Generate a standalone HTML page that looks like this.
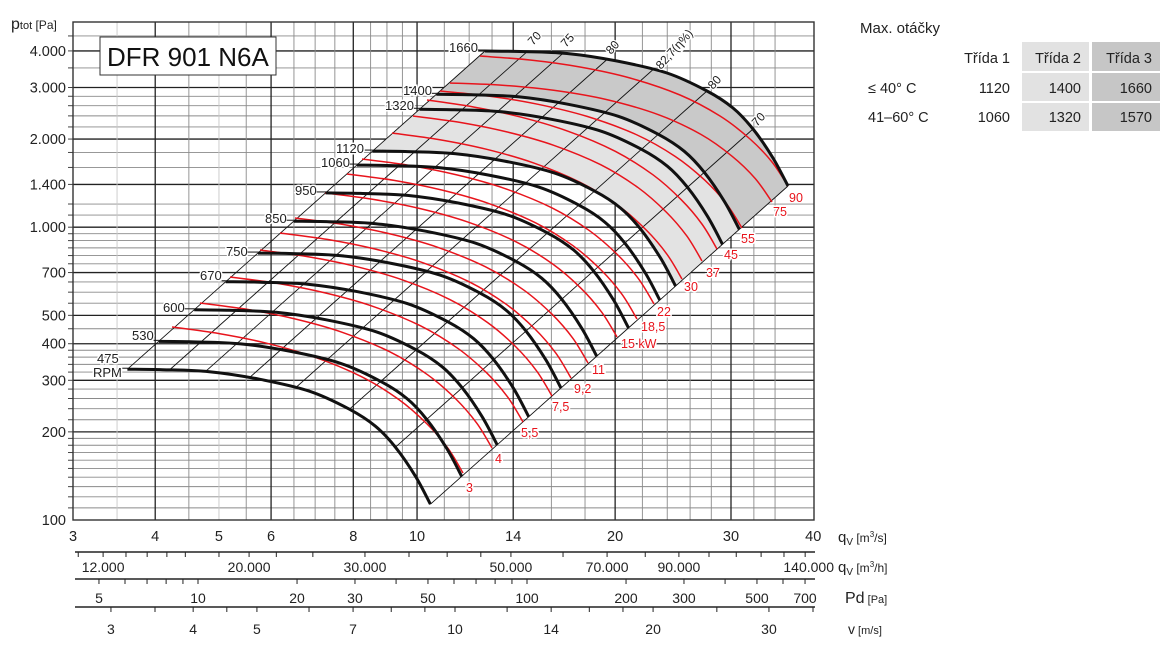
<!DOCTYPE html>
<html><head><meta charset="utf-8">
<style>
html,body{margin:0;padding:0;background:#fff;}
body{width:1172px;height:658px;overflow:hidden;position:relative;font-family:"Liberation Sans",sans-serif;}
svg text{font-family:"Liberation Sans",sans-serif;}
</style></head><body>
<svg id="s" width="1172" height="658" viewBox="0 0 1172 658" xmlns="http://www.w3.org/2000/svg"></svg>
<script>
var NS="http://www.w3.org/2000/svg",S=document.getElementById('s');
function el(t,a,txt){var e=document.createElementNS(NS,t);for(var k in a)e.setAttribute(k,a[k]);if(txt!==undefined)e.textContent=txt;S.appendChild(e);return e;}
function L10(v){return Math.log(v)/Math.LN10;}
function X(q){return 73+658*L10(q/3);}
function Y(p){return 520-292.8*L10(p/100);}
var XL=73,XR=814,YT=22,YB=520;
var hs=[110,120,130,140,150,160,170,180,190,200,220,240,260,280,300,320,340,360,380,400,450,500,550,600,650,700,750,800,850,900,950,1000,1100,1200,1400,1600,1800,2000,2200,2400,2600,2800,3000,3500,4000,4500];
var hmaj=[200,300,400,500,700,1000,1400,2000,3000,4000];
hs.forEach(function(p){var y=Y(p),m=hmaj.indexOf(p)>=0;
 el('line',{x1:XL,x2:XR,y1:y,y2:y,stroke:m?'#222':'#8a8a8a','stroke-width':m?1.3:0.9});
 el('line',{x1:XL-5,x2:XL,y1:y,y2:y,stroke:'#444','stroke-width':1});});
var vs=[3.5,4,4.5,5,5.5,6,6.5,7,7.5,8,8.5,9,9.5,10,11,12,13,14,16,18,20,22,24,26,28,30,32.5,35];
var vmaj=[4,6,8,10,14,20,30];
vs.forEach(function(q){var x=X(q),m=vmaj.indexOf(q)>=0;
 el('line',{x1:x,x2:x,y1:YT,y2:YB,stroke:m?'#222':(q==3.5||q==5?'#c8c8c8':'#8a8a8a'),'stroke-width':m?1.3:0.9});});
el('rect',{x:XL,y:YT,width:XR-XL,height:YB-YT,fill:'none',stroke:'#333','stroke-width':1.4});
[[100,'100'],[200,'200'],[300,'300'],[400,'400'],[500,'500'],[700,'700'],[1000,'1.000'],[1400,'1.400'],[2000,'2.000'],[3000,'3.000'],[4000,'4.000']].forEach(function(a){
 el('text',{x:66,y:Y(a[0])+5,'font-size':14.5,'text-anchor':'end',fill:'#222'},a[1]);});
var t=el('text',{x:11,y:29,'font-size':16,fill:'#222'});t.innerHTML='p<tspan font-size="11">tot</tspan><tspan font-size="12"> [Pa]</tspan>';
[3,4,5,6,8,10,14,20,30,40].forEach(function(q){el('text',{x:X(q),y:541,'font-size':14.5,'text-anchor':'middle',fill:'#222'},q);});
t=el('text',{x:838,y:542,'font-size':15,fill:'#222'});t.innerHTML='q<tspan font-size="10" dy="3">V</tspan><tspan font-size="12" dy="-3"> [m</tspan><tspan font-size="8" dy="-5">3</tspan><tspan font-size="12" dy="5">/s]</tspan>';
el('line',{x1:75,x2:815,y1:552,y2:552,stroke:'#222','stroke-width':1.6});
[11000,12000,13000,14000,15000,16000,18000,20000,22000,25000,30000,35000,40000,45000,50000,60000,70000,80000,90000,100000,110000,120000,130000,140000].forEach(function(v){var x=X(v/3600);el('line',{x1:x,x2:x,y1:552,y2:557,stroke:'#222','stroke-width':1});});
[['12.000',12000],['20.000',20000],['30.000',30000],['50.000',50000],['70.000',70000],['90.000',90000]].forEach(function(a){el('text',{x:X(a[1]/3600),y:572,'font-size':14,'text-anchor':'middle',fill:'#222'},a[0]);});
el('text',{x:834,y:572,'font-size':14,'text-anchor':'end',fill:'#222'},'140.000');
t=el('text',{x:838,y:572,'font-size':15,fill:'#222'});t.innerHTML='q<tspan font-size="10" dy="3">V</tspan><tspan font-size="12" dy="-3"> [m</tspan><tspan font-size="8" dy="-5">3</tspan><tspan font-size="12" dy="5">/h]</tspan>';
function XP(p){return 198+329*L10(p/10);}
el('line',{x1:75,x2:815,y1:579,y2:579,stroke:'#222','stroke-width':1.6});
[5,6,7,8,9,10,20,30,40,50,60,70,80,90,100,200,300,400,500,600,700].forEach(function(p){var x=XP(p);el('line',{x1:x,x2:x,y1:579,y2:584,stroke:'#222','stroke-width':1});});
[5,10,20,30,50,100,200,300,500,700].forEach(function(p){el('text',{x:XP(p),y:603,'font-size':14,'text-anchor':'middle',fill:'#222'},p);});
t=el('text',{x:845,y:603,'font-size':16,fill:'#222'});t.innerHTML='Pd<tspan font-size="11"> [Pa]</tspan>';
function XV(v){return 455+658*L10(v/10);}
el('line',{x1:75,x2:815,y1:607,y2:607,stroke:'#222','stroke-width':1.6});
[3,3.5,4,4.5,5,6,7,8,9,10,12,14,16,18,20,25,30,35].forEach(function(v){var x=XV(v);el('line',{x1:x,x2:x,y1:607,y2:612,stroke:'#222','stroke-width':1});});
[3,4,5,7,10,14,20,30].forEach(function(v){el('text',{x:XV(v),y:634,'font-size':14,'text-anchor':'middle',fill:'#222'},v);});
t=el('text',{x:848,y:634,'font-size':14,fill:'#222'});t.innerHTML='v<tspan font-size="11"> [m/s]</tspan>';

var B=[[485,51],[520,51.5],[567,53.5],[617,61],[667,73],[707,91],[733,108],[753,129],[773,158],[788,186]];
var R=[[480,56],[530,60],[580,67],[630,78],[680,95],[720,116],[750,139],[772,162],[788,186]];
function sh(P,n){var r=L10(n/1660),dx=658*r,dy=-585.6*r;return P.map(function(p){return [p[0]+dx,p[1]+dy];});}
function cr(P){var d='M'+P[0][0].toFixed(1)+' '+P[0][1].toFixed(1);
 for(var i=0;i<P.length-1;i++){var p0=P[i-1]||P[i],p1=P[i],p2=P[i+1],p3=P[i+2]||P[i+1];
 d+=' C'+(p1[0]+(p2[0]-p0[0])/6).toFixed(1)+' '+(p1[1]+(p2[1]-p0[1])/6).toFixed(1)+' '+(p2[0]-(p3[0]-p1[0])/6).toFixed(1)+' '+(p2[1]-(p3[1]-p1[1])/6).toFixed(1)+' '+p2[0].toFixed(1)+' '+p2[1].toFixed(1);}
 return d;}
function interp(P,x){for(var i=0;i<P.length-1;i++){if(x<=P[i+1][0]){var f=(x-P[i][0])/(P[i+1][0]-P[i][0]);return [x,P[i][1]+f*(P[i+1][1]-P[i][1])];}}return P[P.length-1];}
function region(n1,n2,fill){var a=sh(B,n1),b=sh(B,n2).slice().reverse();
 var d=cr(a)+' L'+b[0][0]+' '+b[0][1];var c=cr(b);d+=' '+c.replace(/^M[^C]*/,'')+' Z';el('path',{d:d,fill:fill,stroke:'none'});}
region(1660,1120,'#e3e3e3');region(1660,1400,'#c9c9c9');
[485,527,563,607,653,707,753,788].forEach(function(x){var p=interp(B,x);var r=L10(475/1660);
 el('line',{x1:p[0]+658*r,y1:p[1]-585.6*r,x2:p[0],y2:p[1],stroke:'#111','stroke-width':0.9});});
var red=[['3',172,327,463,473,466,492],['4',200,303,492,448,495,463],['5,5',230,277,523,422,521,437],['7,5',260,250,552,396,552,411],['9,2',280,233,571,378,574,393],['11',295,218,588,363,592,374],['15 kW',325,193,617,337,621,348],['18,5',347,174,637,319,641,331],['22',362,159,654,304,657,316],['30',392,133,682,279,684,291],['37',413,116,702,261,706,277],['45',427,100,717,249,724,259],['55',440,91,742,228,741,243],['75',450,83,772,202,773,216],['90',480,56,788,186,789,202]];
red.forEach(function(a){var dx=a[1]-480,dy=a[2]-56;var T=R.map(function(p){return [p[0]+dx,p[1]+dy];});
 var end=T[T.length-1],cx=a[3]-end[0],cy=a[4]-end[1],x0=T[0][0],x1=end[0];
 T=T.map(function(p){var f=(p[0]-x0)/(x1-x0);return [p[0]+cx*f,p[1]+cy*f];});
 el('path',{d:cr(T),fill:'none',stroke:'#e8141c','stroke-width':1.5});});
var rpm=[[475,'475',97,363],[530,'530',132,340],[600,'600',163,312],[670,'670',200,280],[750,'750',226,256],[850,'850',265,223],[950,'950',295,195],[1060,'1060',321,167],[1120,'1120',336,153],[1320,'1320',385,110],[1400,'1400',403,95],[1660,'1660',449,52]];
rpm.forEach(function(a){var P=sh(B,a[0]);el('path',{d:cr(P),fill:'none',stroke:'#111','stroke-width':3});
 el('text',{x:a[2],y:a[3],'font-size':13,fill:'#222',stroke:'#fff','stroke-width':3,'paint-order':'stroke'},a[1]);
 var lx=a[2]+(a[1].length*7.2);el('line',{x1:lx,y1:P[0][1]-1,x2:P[0][0],y2:P[0][1]-1,stroke:'#111','stroke-width':1});});
el('text',{x:93,y:377,'font-size':13,fill:'#222',stroke:'#fff','stroke-width':3,'paint-order':'stroke'},'RPM');
red.forEach(function(a){el('text',{x:a[5],y:a[6],'font-size':12.5,fill:'#e8141c',stroke:'#fff','stroke-width':3,'paint-order':'stroke'},a[0]);});
[['70',533,46],['75',566,48],['80',611,55],['82,7(η%)',661,70],['80',713,90],['70',757,127]].forEach(function(a){
 el('text',{x:a[1],y:a[2],'font-size':12,fill:'#222',stroke:'#fff','stroke-width':2.5,'paint-order':'stroke',transform:'rotate(-48 '+a[1]+' '+a[2]+')'},a[0]);});
el('rect',{x:100,y:37,width:176,height:38,fill:'#fff',stroke:'#333','stroke-width':1});
el('text',{x:107,y:66,'font-size':26,fill:'#111'},'DFR 901 N6A');
el('text',{x:860,y:33,'font-size':15,fill:'#222'},'Max. otáčky');
el('rect',{x:1022,y:42,width:67,height:29,fill:'#e2e2e2'});el('rect',{x:1092,y:42,width:68,height:29,fill:'#c6c6c6'});
el('rect',{x:1022,y:73,width:67,height:28,fill:'#e2e2e2'});el('rect',{x:1092,y:73,width:68,height:28,fill:'#c6c6c6'});
el('rect',{x:1022,y:103,width:67,height:28,fill:'#e2e2e2'});el('rect',{x:1092,y:103,width:68,height:28,fill:'#c6c6c6'});
[['Třída 1',1010,63],['Třída 2',1081,63],['Třída 3',1152,63],['1120',1010,93],['1400',1081,93],['1660',1152,93],['1060',1010,122],['1320',1081,122],['1570',1152,122]].forEach(function(a){
 el('text',{x:a[1],y:a[2],'font-size':14.5,'text-anchor':'end',fill:'#222'},a[0]);});
el('text',{x:868,y:93,'font-size':14.5,fill:'#222'},'≤ 40° C');
el('text',{x:868,y:122,'font-size':14.5,fill:'#222'},'41–60° C');
</script>
</body></html>
